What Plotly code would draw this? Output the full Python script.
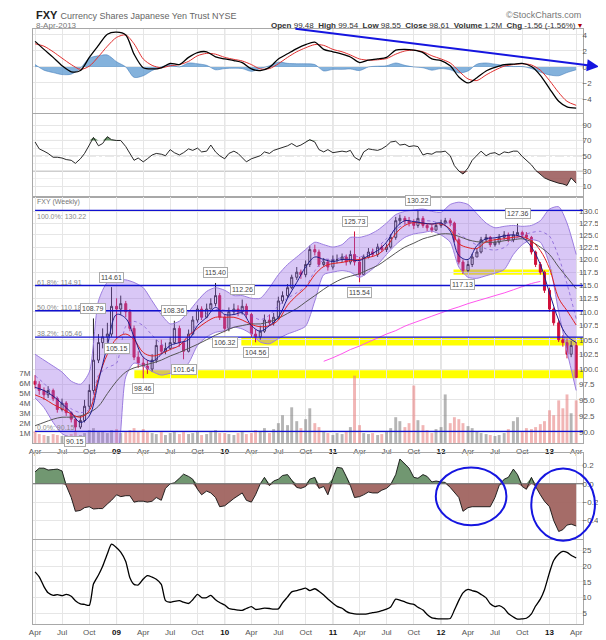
import numpy as np
import pandas as pd
import plotly.graph_objects as go

# ---------------- data ----------------
semi_dates = pd.date_range("2008-04-01", "2013-04-01", freq="SMS")   # 121 half-month bars
month_dates = pd.date_range("2008-04-01", "2013-04-01", freq="MS")   # 61 monthly points
tick_dates = pd.date_range("2008-04-01", "2013-04-01", freq="QS-JAN")

first_open = 98.0
closes = [
    97.5, 96.5, 95.8, 96.5, 95.2, 93.5, 94.5, 93.0, 92.0, 90.8, 91.8, 94.0, 96.5, 101.5, 104.5, 105.5, 106.0, 111.0,
    110.5, 111.5, 110.0, 107.0, 102.0, 101.0, 100.5, 100.0, 101.5, 104.0, 103.0, 103.5, 104.5, 107.0, 104.5, 103.0, 106.0, 108.5, 110.5, 109.0, 110.5, 111.5, 113.0, 109.0,
    107.0, 110.0, 110.5, 110.0, 111.0, 109.5, 106.0, 105.5, 106.5, 108.5, 108.0, 109.0, 112.0, 113.0, 114.5, 116.5, 117.5, 117.0, 119.0, 122.0, 121.5, 119.0, 119.5, 118.5,
    120.0, 120.0, 120.5, 119.5, 121.0, 119.5, 117.0, 120.5, 121.5, 121.0, 122.5, 122.0, 122.5, 124.5, 128.0, 128.5, 128.0, 127.5, 127.0, 128.5, 127.0, 126.5, 126.0, 127.0,
    127.5, 128.0, 127.5, 124.0, 119.5, 117.8, 119.0, 120.5, 121.5, 124.0, 124.5, 123.0, 123.5, 124.5, 125.0, 124.0, 125.0, 125.5, 125.0, 124.5, 121.5, 119.0, 117.5, 114.0,
    110.5, 108.0, 105.0, 104.5, 102.5, 104.0, 98.6]
highs = [
    99.0, 98.0, 97.0, 97.2, 96.8, 95.5, 95.2, 94.8, 93.2, 92.2, 92.5, 95.0, 97.5, 108.79, 106.0, 107.0, 108.0, 114.61,
    112.5, 113.0, 112.0, 110.5, 107.5, 103.0, 102.0, 101.5, 102.5, 105.0, 105.0, 104.5, 105.5, 108.36, 107.5, 104.5, 106.8, 109.2, 111.2, 111.0, 111.5, 112.5, 115.40, 113.5,
    109.5, 110.8, 111.5, 111.2, 112.26, 111.5, 109.8, 106.8, 107.5, 109.5, 109.5, 109.8, 112.8, 113.8, 115.2, 117.0, 118.5, 118.0, 119.8, 122.8, 123.0, 122.0, 120.3, 120.0,
    120.8, 121.0, 121.2, 121.0, 121.8, 125.73, 120.5, 121.0, 122.3, 122.2, 123.2, 123.0, 123.2, 125.2, 128.8, 129.3, 129.0, 128.8, 128.3, 130.22, 129.0, 127.5, 127.2, 127.6,
    128.2, 128.6, 128.5, 127.8, 124.5, 120.0, 119.8, 121.2, 122.2, 124.6, 125.2, 124.8, 124.2, 125.2, 125.8, 125.5, 125.8, 127.36, 125.9, 125.6, 124.8, 121.8, 119.5, 117.8,
    114.5, 110.8, 108.5, 105.8, 105.2, 104.8, 104.6]
lows = [
    96.8, 95.8, 95.0, 95.3, 94.8, 93.0, 93.2, 92.5, 91.5, 90.15, 90.5, 91.5, 93.5, 96.0, 101.0, 103.5, 104.5, 105.5,
    105.15, 109.5, 109.0, 106.5, 101.5, 100.2, 98.46, 99.2, 99.5, 101.0, 102.5, 102.5, 103.2, 104.2, 103.8, 101.64, 102.8, 105.8, 108.0, 108.5, 108.8, 110.5, 111.0, 108.5,
    106.32, 106.5, 109.5, 109.2, 109.5, 108.8, 105.5, 104.56, 105.0, 106.2, 107.5, 107.5, 108.5, 111.5, 112.5, 114.2, 116.0, 116.2, 116.5, 118.5, 120.8, 118.5, 118.6, 117.8,
    118.0, 119.2, 119.5, 118.8, 119.0, 118.8, 115.54, 116.8, 120.2, 120.5, 120.5, 121.5, 121.5, 122.2, 124.0, 127.2, 127.3, 126.8, 126.2, 126.5, 126.5, 125.8, 125.5, 125.8,
    126.5, 127.2, 126.8, 123.5, 119.0, 117.13, 117.5, 118.5, 120.5, 121.2, 123.5, 122.5, 122.6, 123.0, 124.0, 123.5, 123.5, 124.8, 124.5, 124.0, 121.0, 118.5, 117.0, 113.5,
    110.0, 107.5, 104.6, 103.8, 101.8, 102.0, 98.55]
volume_m = [
    1.2, 0.9, 0.8, 0.7, 0.9, 0.8, 0.7, 0.8, 0.9, 1.1, 0.8, 1.0, 1.3, 1.5, 1.1, 1.2, 1.0, 1.3,
    1.4, 1.0, 1.1, 1.3, 1.5, 1.2, 1.4, 1.1, 1.0, 0.9, 1.1, 0.8, 1.0, 1.2, 0.9, 1.1, 0.9, 1.0, 1.2, 0.8, 0.9, 1.1, 1.3, 1.0,
    1.0, 0.9, 0.8, 1.0, 1.1, 0.9, 1.0, 1.3, 1.2, 1.5, 1.0, 1.4, 2.0, 2.8, 1.8, 3.6, 2.2, 1.5, 2.4, 3.5, 2.0, 1.6, 1.2, 1.0,
    0.8, 1.0, 0.9, 1.2, 1.6, 6.8, 1.8, 1.0, 0.9, 1.0, 0.8, 0.9, 1.2, 1.5, 2.6, 2.2, 1.6, 2.0, 5.8, 2.3, 1.8, 1.3, 1.0, 1.4,
    1.6, 4.9, 2.0, 2.6, 2.4, 2.0, 1.7, 1.5, 1.2, 1.0, 0.9, 0.8, 0.7, 0.8, 1.0, 1.4, 2.2, 2.6, 1.2, 1.5, 1.4, 1.6, 1.9, 2.2,
    3.3, 2.8, 4.3, 3.5, 4.9, 3.0, 4.3]
rsi = [68, 59, 56, 53, 48, 48, 47, 45, 44, 40,
       46, 53, 64, 74, 63, 66, 75, 71, 70, 70,
       62, 52, 44, 47, 42, 46, 51, 53, 52, 50,
       58, 54, 51, 54, 59, 57, 60, 55, 56, 64,
       55, 50, 46, 53, 56, 53, 48, 42, 46, 48,
       50, 55, 53, 57, 59, 61, 63, 66, 62, 64,
       68, 71, 68, 58, 55, 58, 54, 55, 56, 55,
       57, 48, 44, 55, 59, 58, 57, 59, 63, 68,
       69, 64, 65, 62, 63, 62, 51, 53, 52, 55,
       55, 56, 50, 37, 30, 26, 34, 44, 51, 56,
       50, 53, 54, 51, 55, 54, 56, 56, 49, 44,
       38, 31, 26, 21, 18, 16, 14, 13, 11, 21,
       14]
cmf = [0.13, 0.17, 0.17, 0.15, 0.155, 0.16, 0.14, -0.02, -0.15, -0.3,
       -0.29, -0.26, -0.25, -0.275, -0.27, -0.27, -0.22, -0.18, -0.12, -0.14,
       -0.13, -0.13, -0.2, -0.19, -0.19, -0.2, -0.19, -0.15, -0.18, -0.05,
       0.0, 0.01, 0.06, 0.105, 0.08, 0.05, -0.06, -0.12, -0.08, -0.1,
       -0.15, -0.25, -0.24, -0.2, -0.16, -0.13, -0.1, -0.18, -0.2, -0.12,
       0.0, 0.07, -0.02, 0.03, 0.05, 0.09, 0.1, 0.04, -0.04, -0.05,
       -0.03, 0.05, 0.07, -0.05, -0.03, -0.12, 0.06, 0.18, 0.17, 0.08,
       -0.02, -0.15, -0.14, -0.12, -0.09, -0.1, -0.1, -0.07, -0.05, -0.01,
       0.1, 0.27, 0.22, 0.17, 0.07, 0.06, 0.1, 0.08, 0.02, 0.03,
       0.02, 0.015, -0.04, -0.09, -0.15, -0.3, -0.26, -0.25, -0.25, -0.25,
       -0.25, -0.25, -0.15, -0.02, 0.05, 0.07, 0.16, 0.1, -0.03, -0.06,
       0.07, -0.03, -0.12, -0.19, -0.25, -0.4, -0.52, -0.5, -0.45, -0.44,
       -0.46]
lower_ind = [18.2, 16.6, 13.5, 11.5, 10.7, 10.9, 10.6, 11.0, 10.4, 9.0,
             8.0, 7.8, 7.5, 14.3, 17.2, 20.0, 24.0, 27.0, 25.9, 24.5,
             21.5, 16.3, 14.2, 14.0, 15.9, 17.0, 16.5, 15.8, 14.2, 9.0,
             8.5, 8.8, 9.0, 8.5, 8.1, 9.3, 11.0, 10.0, 10.0, 10.7,
             9.3, 8.4, 7.6, 6.5, 6.2, 6.0, 5.9, 6.5, 7.1, 6.2,
             6.4, 6.6, 6.5, 6.3, 6.4, 8.3, 10.2, 11.8, 12.2, 12.6,
             13.0, 12.2, 12.8, 12.0, 10.8, 9.5, 8.2, 7.2, 6.6, 5.6,
             5.0, 4.8, 4.7, 4.7, 4.9, 5.2, 5.4, 5.8, 6.3, 7.0,
             9.5, 9.2, 8.6, 8.1, 7.8, 6.9, 6.0, 4.6, 3.5, 3.3,
             3.2, 3.2, 3.3, 6.0, 9.1, 11.5, 12.6, 12.2, 11.8, 11.0,
             9.9, 8.0, 7.1, 7.4, 6.5, 4.9, 3.8, 3.1, 3.2, 3.4,
             4.8, 7.3, 9.5, 12.5, 18.0, 21.8, 23.9, 24.7, 24.4, 23.5,
             22.6]
macd = [3.2, 2.2, 1.2, 0.15, -0.6, -0.45, 1.2, 2.7, 4.1, 4.35,
        4.0, 1.6, -0.1, -0.25, -0.1, 0.45, 0.3, 1.2, 1.8, 1.9,
        1.25, 1.0, 0.8, 0.55, -0.25, -0.45, -0.05, 1.0, 1.65, 2.3,
        2.8, 3.1, 2.2, 1.9, 1.6, 1.25, 0.55, 0.85, 1.0, 1.2,
        2.1, 2.2, 2.1, 1.8, 1.0, 0.8, 0.15, -1.25, -2.0, -1.35,
        -0.5, -0.05, 0.3, 0.35, 0.45, 0.05, -1.05, -2.7, -4.3, -5.0,
        -5.15]
signal = [2.9, 2.6, 1.9, 1.1, 0.3, -0.3, 0.1, 1.3, 2.6, 3.7,
          4.0, 2.9, 1.0, 0.2, -0.1, 0.15, 0.3, 0.7, 1.4, 1.7,
          1.6, 1.2, 0.95, 0.75, 0.3, -0.25, -0.2, 0.4, 1.2, 1.9,
          2.4, 2.8, 2.7, 2.2, 1.9, 1.5, 1.0, 0.85, 0.9, 1.05,
          1.6, 2.0, 2.1, 1.9, 1.4, 1.0, 0.5, -0.5, -1.5, -1.7,
          -1.0, -0.4, 0.1, 0.3, 0.4, 0.25, -0.4, -1.7, -3.2, -4.3,
          -4.8]
bb_upper = [102.5, 101.5, 100.5, 99.5, 98.0, 97.5, 99.5, 112.0, 115.5, 116.0,
            116.0, 115.5, 114.5, 112.0, 109.5, 107.8, 108.3, 110.0, 112.0, 113.8,
            114.5, 114.0, 113.0, 113.0, 112.5, 112.5, 114.5, 117.0, 119.0, 120.5,
            122.0, 123.5, 123.0, 122.5, 123.0, 124.5, 124.5, 125.0, 126.0, 127.5,
            129.3, 130.0, 130.3, 130.5, 130.0, 129.8, 131.5, 132.0, 131.5, 129.5,
            127.5, 126.5, 126.8, 127.0, 126.8, 127.0, 128.0, 130.5, 131.0, 127.5,
            121.0]
bb_lower = [95.3, 93.8, 91.5, 89.8, 89.2, 88.5, 87.5, 86.0, 85.0, 86.0,
            98.7, 101.0, 100.5, 99.6, 99.0, 99.3, 99.6, 101.0, 104.0, 105.5,
            106.3, 106.6, 107.2, 106.9, 106.0, 104.6, 104.3, 105.2, 106.0, 106.6,
            107.4, 112.0, 117.0, 117.5, 117.8, 117.5, 116.5, 117.5, 119.0, 121.0,
            123.0, 124.5, 125.2, 125.5, 125.8, 125.0, 123.5, 118.5, 116.5, 116.3,
            116.8, 117.3, 118.0, 121.0, 123.0, 124.0, 123.5, 119.0, 110.0, 103.0,
            96.5]
ma_fast = [97.0, 96.5, 95.6, 94.4, 93.0, 91.5, 92.5, 98.0, 104.0, 109.5,
           108.8, 105.5, 102.0, 101.3, 102.5, 104.0, 104.5, 105.0, 107.5, 109.0,
           110.8, 109.5, 109.5, 109.8, 107.5, 106.5, 107.5, 109.0, 112.5, 115.5,
           118.5, 120.5, 120.0, 119.6, 120.0, 120.0, 119.8, 120.8, 121.8, 123.5,
           126.5, 128.0, 127.8, 127.5, 127.3, 127.5, 125.8, 120.8, 120.0, 122.8,
           124.2, 124.4, 124.8, 125.0, 124.5, 122.5, 119.0, 113.5, 108.5, 105.7,
           104.5]
ma_mid = [95.8, 95.2, 94.3, 93.6, 92.8, 92.3, 93.3, 98.5, 102.5, 105.2,
          106.0, 105.0, 102.8, 102.2, 102.6, 103.3, 104.0, 105.7, 107.0, 108.2,
          109.0, 109.0, 109.0, 108.5, 107.7, 107.3, 107.5, 108.5, 111.2, 113.0,
          114.5, 117.0, 118.6, 119.2, 119.4, 119.8, 120.0, 120.4, 121.0, 122.5,
          125.3, 127.0, 127.6, 127.4, 127.3, 127.3, 126.2, 123.2, 122.4, 122.2,
          123.6, 124.0, 124.2, 124.5, 124.6, 123.8, 121.8, 118.2, 112.5, 110.2,
          107.6]
ma_slow = [91.0, 91.5, 92.0, 92.3, 92.3, 92.5, 93.0, 94.0, 96.0, 98.0,
           99.5, 100.2, 100.6, 101.0, 101.5, 102.2, 102.8, 103.5, 104.2, 105.0,
           105.8, 106.5, 107.2, 107.5, 107.8, 107.8, 108.2, 108.8, 109.7, 110.6,
           111.8, 113.0, 114.2, 115.3, 116.2, 116.7, 117.2, 118.0, 118.8, 120.0,
           121.3, 122.5, 123.3, 124.2, 124.7, 125.2, 125.2, 124.7, 124.0, 123.6,
           123.5, 123.5, 123.8, 124.0, 124.2, 123.6, 122.5, 121.0, 118.5, 116.5,
           114.3]
ma_long = [None] * 32 + [101.3, 101.9, 102.6, 103.3, 103.9, 104.6, 105.3, 106.0, 106.6, 107.4,
                         108.0, 108.6, 109.2, 109.8, 110.4, 110.9, 111.5, 112.0, 112.5, 113.0,
                         113.5, 114.1, 114.7, 115.3, 115.7] + [None] * 4

fib_levels = [130.22, 114.91, 110.18, 105.46, 90.15]
fib_names = ["100.0%", "61.8%", "50.0%", "38.2%", "0.0%"]
support_bands = [("2009-03-02", None, 98.5, 99.8),
                 ("2010-02-26", None, 104.0, 105.4),
                 ("2012-02-12", "2013-01-10", 117.0, 118.0)]
peak_labels = [(9, 90.15, -1), (13, 108.79, 1), (17, 114.61, 1), (18, 105.15, -1),
               (24, 98.46, -1), (31, 108.36, 1), (33, 101.64, -1), (40, 115.40, 1),
               (42, 106.32, -1), (46, 112.26, 1), (49, 104.56, -1), (71, 125.73, 1),
               (72, 115.54, -1), (85, 130.22, 1), (95, 117.13, -1), (107, 127.36, 1)]

# ---------------- geometry ----------------
W, H = 606, 640
ML, MR, MT, MB = 22, 31, 21, 11
PH = H - MT - MB
PW = W - ML - MR


def dom(top_px, bot_px):
    return [(H - MB - bot_px) / PH, (H - MB - top_px) / PH]


def px_x(x):
    return (x - ML) / PW


def px_y(y):
    return (H - MB - y) / PH


x_start, x_end = "2008-03-25", "2013-04-24"
FONT = "Liberation Sans, Arial, sans-serif"
GRID = "#e6e6e6"
BORDER = "#a8a8a8"
LBL = "#555555"

tick_text = []
for d in tick_dates:
    if d.month == 1:
        tick_text.append("<b><span style='color:#111'>%s</span></b>" % d.strftime("%y"))
    else:
        tick_text.append(d.strftime("%b"))

fig = go.Figure()

# ---------------- MACD panel ----------------
hist = np.array(macd) - np.array(signal)
fig.add_trace(go.Scatter(x=month_dates, y=hist, fill="tozeroy", fillcolor="rgba(80,145,205,0.7)",
                         line=dict(width=0.6, color="rgba(60,120,185,0.9)", shape="spline", smoothing=0.8),
                         xaxis="x", yaxis="y", hoverinfo="skip"))
fig.add_trace(go.Scatter(x=month_dates, y=signal, line=dict(color="#e03030", width=1, shape="spline", smoothing=0.8),
                         xaxis="x", yaxis="y"))
fig.add_trace(go.Scatter(x=month_dates, y=macd, line=dict(color="#000000", width=1.3, shape="spline", smoothing=0.8),
                         xaxis="x", yaxis="y"))

# ---------------- RSI panel ----------------
rsi_arr = np.array(rsi, dtype=float)
n = len(rsi)
fig.add_trace(go.Scatter(x=semi_dates, y=[70] * n, line=dict(width=0), xaxis="x2", yaxis="y2", hoverinfo="skip"))
fig.add_trace(go.Scatter(x=semi_dates, y=np.maximum(rsi_arr, 70), fill="tonexty", fillcolor="rgba(80,130,80,0.85)",
                         line=dict(width=0), xaxis="x2", yaxis="y2", hoverinfo="skip"))
fig.add_trace(go.Scatter(x=semi_dates, y=[30] * n, line=dict(width=0), xaxis="x2", yaxis="y2", hoverinfo="skip"))
fig.add_trace(go.Scatter(x=semi_dates, y=np.minimum(rsi_arr, 30), fill="tonexty", fillcolor="rgba(150,85,85,0.85)",
                         line=dict(width=0), xaxis="x2", yaxis="y2", hoverinfo="skip"))
fig.add_trace(go.Scatter(x=semi_dates, y=rsi, line=dict(color="#111", width=0.9), xaxis="x2", yaxis="y2"))

# ---------------- main price panel ----------------
opens = [first_open] + closes[:-1]
vol_colors = ["rgba(230,120,120,0.55)" if c < o else "rgba(120,120,120,0.55)" for o, c in zip(opens, closes)]
fig.add_trace(go.Bar(x=semi_dates, y=volume_m, marker=dict(color=vol_colors, line=dict(width=0)),
                     xaxis="x3", yaxis="y3", hoverinfo="skip"))
fig.add_trace(go.Scatter(x=month_dates, y=bb_upper, line=dict(color="#9b7ddf", width=1, shape="spline", smoothing=0.7),
                         xaxis="x3", yaxis="y6", hoverinfo="skip"))
fig.add_trace(go.Scatter(x=month_dates, y=bb_lower, fill="tonexty", fillcolor="rgba(150,100,230,0.36)",
                         line=dict(color="#9b7ddf", width=1, shape="spline", smoothing=0.7),
                         xaxis="x3", yaxis="y6", hoverinfo="skip"))
bb_mid = (np.array(bb_upper) + np.array(bb_lower)) / 2
fig.add_trace(go.Scatter(x=month_dates, y=bb_mid, line=dict(color="rgba(120,80,210,0.7)", width=1, dash="dot",
                                                            shape="spline", smoothing=0.7),
                         xaxis="x3", yaxis="y6", hoverinfo="skip"))
fig.add_trace(go.Scatter(x=month_dates, y=ma_long, line=dict(color="#ff55ee", width=1, shape="spline"),
                         xaxis="x3", yaxis="y6"))
fig.add_trace(go.Scatter(x=month_dates, y=ma_slow, line=dict(color="#555555", width=1, shape="spline"),
                         xaxis="x3", yaxis="y6"))
fig.add_trace(go.Scatter(x=month_dates, y=ma_mid, line=dict(color="#e02020", width=1, shape="spline"),
                         xaxis="x3", yaxis="y6"))
fig.add_trace(go.Scatter(x=month_dates, y=ma_fast, line=dict(color="#1c1c8a", width=1, shape="spline"),
                         xaxis="x3", yaxis="y6"))
fig.add_trace(go.Candlestick(x=semi_dates, open=opens, high=highs, low=lows, close=closes,
                             increasing=dict(line=dict(color="#222222", width=1), fillcolor="#ffffff"),
                             decreasing=dict(line=dict(color="#d0103a", width=1), fillcolor="#d0103a"),
                             whiskerwidth=0, xaxis="x3", yaxis="y6"))

# ---------------- CMF panel ----------------
cmf_arr = np.array(cmf)
fig.add_trace(go.Scatter(x=semi_dates, y=np.maximum(cmf_arr, 0), fill="tozeroy", fillcolor="rgba(105,145,105,0.95)",
                         line=dict(width=0), xaxis="x4", yaxis="y4", hoverinfo="skip"))
fig.add_trace(go.Scatter(x=semi_dates, y=np.minimum(cmf_arr, 0), fill="tozeroy", fillcolor="rgba(160,100,96,0.95)",
                         line=dict(width=0), xaxis="x4", yaxis="y4", hoverinfo="skip"))
fig.add_trace(go.Scatter(x=semi_dates, y=cmf, line=dict(color="#111", width=0.9), xaxis="x4", yaxis="y4"))

# ---------------- bottom panel ----------------
fig.add_trace(go.Scatter(x=semi_dates, y=lower_ind, line=dict(color="#000", width=1.3, shape="spline", smoothing=0.6),
                         xaxis="x5", yaxis="y5"))

# ---------------- axes ----------------
common_x = dict(type="date", range=[x_start, x_end], tickvals=list(tick_dates), ticktext=tick_text,
                showgrid=True, gridcolor=GRID, zeroline=False, showline=True, linecolor=BORDER, mirror=True,
                ticks="", tickfont=dict(size=8, color=LBL, family=FONT), rangeslider=dict(visible=False),
                domain=[0, 1])
common_y = dict(showgrid=True, gridcolor=GRID, zeroline=False, showline=True, linecolor=BORDER, mirror=True,
                ticks="", tickfont=dict(size=8, color=LBL, family=FONT), side="right", ticklabelstandoff=-3)

layout = dict(
    width=W, height=H, margin=dict(l=ML, r=MR, t=MT, b=MB),
    paper_bgcolor="white", plot_bgcolor="white", showlegend=False, bargap=0.3,
    font=dict(family=FONT, size=9, color=LBL),
)
for i, ax in enumerate(["xaxis", "xaxis2", "xaxis3", "xaxis4", "xaxis5"]):
    d = dict(common_x)
    d["anchor"] = "y" if i == 0 else "y%d" % (i + 1)
    d["showticklabels"] = i in (2, 4)
    layout[ax] = d

layout["yaxis"] = dict(common_y, domain=dom(21, 107), range=[-5.78, 4.75], tickvals=[-4, -2, 0, 2, 4])
layout["yaxis2"] = dict(common_y, domain=dom(108, 193), range=[-4.5, 104.5], tickvals=[10, 30, 50, 70, 90],
                        minor=dict(tickvals=[20, 40, 60, 80], showgrid=True, gridcolor="#f0f0f0"))
layout["yaxis3"] = dict(common_y, domain=dom(193, 444), range=[0, 24.8], side="left", showgrid=False,
                        tickvals=[1, 2, 3, 4, 5, 6, 7], ticktext=["%dM" % v for v in range(1, 8)],
                        ticklabelstandoff=0)
price_ticks = [90 + 2.5 * i for i in range(17)]
layout["yaxis6"] = dict(common_y, overlaying="y3", anchor="x3", type="log", range=[1.9466, 2.1241],
                        tickvals=price_ticks, tickformat=".1f", showline=False, ticklabelstandoff=-5)
layout["yaxis4"] = dict(common_y, domain=dom(454, 542), range=[-0.6, 0.338], tickvals=[-0.4, -0.2, 0, 0.2],
                        tickformat=".1f")
layout["yaxis5"] = dict(common_y, domain=dom(543, 629), range=[1.56, 28.4], tickvals=[5, 10, 15, 20, 25])
fig.update_layout(**layout)

# ---------------- shapes ----------------
shapes = []
year_ticks = [d for d in tick_dates if d.month == 1]
for xr, yr in [("x", "y"), ("x2", "y2"), ("x3", "y3"), ("x4", "y4"), ("x5", "y5")]:
    for d in year_ticks:
        shapes.append(dict(type="line", xref=xr, yref=yr + " domain", x0=d, x1=d, y0=0, y1=1,
                           line=dict(color="#c4c4c4", width=1), layer="below"))
for x0, x1, lo, hi in support_bands:
    shapes.append(dict(type="rect", xref="x3", yref="y6", x0=x0, x1=x1 if x1 else x_end, y0=lo, y1=hi,
                       fillcolor="#ffff00", line=dict(width=0), layer="below"))
for lvl in fib_levels:
    shapes.append(dict(type="line", xref="x3", yref="y6", x0=semi_dates[0], x1=x_end, y0=lvl, y1=lvl,
                       line=dict(color="#1010d0", width=1.4)))
for lvl, dash in [(70, "solid"), (30, "solid"), (50, "dashdot")]:
    shapes.append(dict(type="line", xref="x2 domain", yref="y2", x0=0, x1=1, y0=lvl, y1=lvl,
                       line=dict(color="#9a9a9a", width=1, dash=dash), layer="below"))
shapes.append(dict(type="line", xref="x4 domain", yref="y4", x0=0, x1=1, y0=0, y1=0,
                   line=dict(color="#666", width=1)))
# hand-drawn ellipses on the CMF panel
shapes.append(dict(type="circle", xref="paper", yref="paper", x0=px_x(427), x1=px_x(498), y0=px_y(528), y1=px_y(469),
                   line=dict(color="#1515e0", width=2)))
shapes.append(dict(type="circle", xref="paper", yref="paper", x0=px_x(523), x1=px_x(587), y0=px_y(544), y1=px_y(470),
                   line=dict(color="#1515e0", width=2)))
fig.update_layout(shapes=shapes)

# ---------------- annotations ----------------
ann = []
ann.append(dict(xref="paper", yref="paper", x=px_x(23), y=px_y(7), xanchor="left", yanchor="middle", showarrow=False,
                text="<b>FXY</b> <span style='font-size:9px;color:#666'>Currency Shares Japanese Yen Trust NYSE</span>",
                font=dict(size=11, color="#222", family=FONT)))
ann.append(dict(xref="paper", yref="paper", x=px_x(23), y=px_y(17), xanchor="left", yanchor="middle", showarrow=False,
                text="8-Apr-2013", font=dict(size=8, color="#777", family=FONT)))
ann.append(dict(xref="paper", yref="paper", x=px_x(575), y=px_y(7), xanchor="right", yanchor="middle", showarrow=False,
                text="©StockCharts.com", font=dict(size=9, color="#777", family=FONT)))
ann.append(dict(xref="paper", yref="paper", x=px_x(576), y=px_y(17), xanchor="right", yanchor="middle", showarrow=False,
                text="<b>Open</b> 99.48  <b>High</b> 99.54  <b>Low</b> 98.55  <b>Close</b> 98.61  "
                     "<b>Volume</b> 1.2M  <b>Chg</b> -1.56 (-1.56%) <span style='color:#b00000'>▾</span>",
                font=dict(size=8, color="#333", family=FONT)))
# trend arrow on MACD
ann.append(dict(xref="paper", yref="paper", x=px_x(591), y=px_y(59.5), ax=286 - 591, ay=21.5 - 59.5,
                axref="pixel", ayref="pixel", showarrow=True, arrowhead=2, arrowsize=1.2, arrowwidth=2,
                arrowcolor="#1515e0", text=""))
ann.append(dict(xref="x3 domain", yref="y3 domain", x=0.004, y=1.0, xanchor="left", yanchor="top", showarrow=False,
                text="FXY (Weekly)", font=dict(size=7, color="#777", family=FONT), yshift=1))
for name, lvl in zip(fib_names, fib_levels):
    top_level = lvl == max(fib_levels)
    ann.append(dict(xref="x3", yref="y6", x=semi_dates[0], y=np.log10(lvl), xanchor="left",
                    yanchor="top" if top_level else "bottom",
                    showarrow=False, text="%s: %.2f" % (name, lvl), font=dict(size=7, color="#888", family=FONT),
                    yshift=-1 if top_level else -2))
for k, val, side in peak_labels:
    ann.append(dict(xref="x3", yref="y6", x=semi_dates[k], y=np.log10(val), showarrow=False,
                    text="%.2f" % val, yshift=10 * side, font=dict(size=7, color="#444", family=FONT),
                    bgcolor="white", bordercolor="#aaaaaa", borderwidth=1, borderpad=1))
fig.update_layout(annotations=ann)

fig.write_html("out.html")
